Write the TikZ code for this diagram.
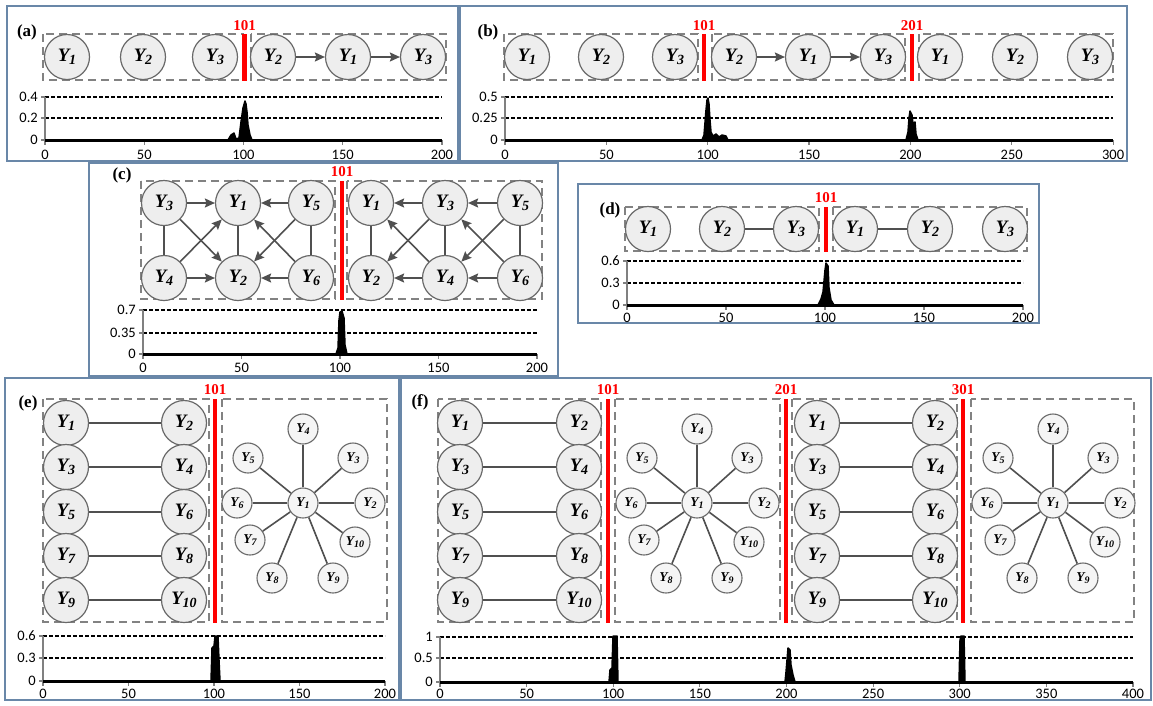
\documentclass[tikz,border=0pt]{standalone}
\usepackage{fontspec}
\setmainfont{Liberation Serif}
\newfontfamily\serifface{Liberation Serif}
\newfontfamily\tickfont{Carlito}
\usetikzlibrary{arrows.meta}
\definecolor{panelblue}{RGB}{105,135,168}
\definecolor{cdraw}{RGB}{105,105,105}
\definecolor{cfill}{RGB}{238,238,238}
\definecolor{edgec}{RGB}{80,80,80}
\definecolor{boxc}{RGB}{130,130,130}
\newcommand{\YB}[1]{{\serifface\fontsize{19}{19}\selectfont\bfseries\itshape Y\kern-0.5pt\raisebox{-0.35ex}{\fontsize{14}{14}\selectfont #1}}}
\newcommand{\YS}[1]{{\serifface\fontsize{13.5}{13.5}\selectfont\bfseries\itshape Y\raisebox{-0.35ex}{\fontsize{10}{10}\selectfont #1}}}
\newcommand{\pairblock}[3]{%
  \foreach \yy/\ia/\ib [count=\k] in {423/1/2,467/3/4,512/5/6,556/7/8,600/9/10}{
    \node[bigc] (#1l\k) at (#2,\yy) {\YB{\ia}};
    \node[bigc] (#1r\k) at (#3,\yy) {\YB{\ib}};
    \draw[und] (#1l\k) -- (#1r\k);
  }}
\newcommand{\starblock}[3]{%
  \begin{scope}[shift={(#2,#3)}]
    \node[smc] (#1c) at (0,0) {\YS{1}};
    \foreach \dx/\dy/\j in {0/-74/4,50/-45/3,67/0/2,52/39/10,30/75/9,-31/75/8,-53/37/7,-66/0/6,-55/-45/5}{
      \node[smc] (#1n\j) at (\dx,\dy) {\YS{\j}};
      \draw[und] (#1c) -- (#1n\j);
    }
  \end{scope}}
\tikzset{
  panel/.style={draw=panelblue,line width=1.6pt},
  dbox/.style={draw=boxc,line width=1.4pt,dash pattern=on 8pt off 5pt},
  bigc/.style={circle,draw=cdraw,fill=cfill,line width=1.2pt,minimum size=45pt,inner sep=0pt},
  smc/.style={circle,draw=cdraw,fill=cfill!60,line width=1.1pt,minimum size=30pt,inner sep=0pt},
  und/.style={draw=edgec,line width=1.6pt},
  arr/.style={draw=edgec,line width=1.6pt,-{Stealth[length=10pt,width=9pt,inset=1.5pt]}},
  redbar/.style={draw=red,line width=4.5pt},
  redlab/.style={text=red,font=\serifface\fontsize{15}{15}\selectfont\bfseries,inner sep=0pt},
  plab/.style={font=\serifface\fontsize{17}{17}\selectfont\bfseries,inner sep=0pt},
  dline/.style={black,line width=2.2pt,dash pattern=on 4pt off 2pt},
  axisc/.style={draw=gray,line width=1.2pt},
  base/.style={black,line width=3pt},
  sig/.style={black,fill=black,line width=1.5pt,line join=round},
  tl/.style={font=\tickfont\fontsize{14.5}{14.5}\selectfont,inner sep=0pt}
}
\begin{document}
\begin{tikzpicture}[x=1pt,y=-1pt]
\useasboundingbox (0,0) rectangle (1153,705);
\fill[white] (0,0) rectangle (1153,705);
% panels
\draw[panel] (7,6) rectangle (458,161);
\draw[panel] (460,6) rectangle (1127,161);
\draw[panel] (89,163) rectangle (558,376);
\draw[panel] (578,184) rectangle (1039,323);
\draw[panel] (5,378) rectangle (399,700);
\draw[panel] (401,378) rectangle (1151,700);

%%%%% (a)
\node[plab] (la) at (27,32) {(a)};
\draw[dbox] (43,34) rectangle (243,80);
\draw[dbox] (251,34) rectangle (446,80);
\draw[redbar] (244.5,34) -- (244.5,81);
\node[redlab] (ra) at (244.5,26) {101};
\node[bigc] (a1) at (67,57) {\YB{1}};
\node[bigc] (a2) at (143,57) {\YB{2}};
\node[bigc] (a3) at (215,57) {\YB{3}};
\node[bigc] (a4) at (273,57) {\YB{2}};
\node[bigc] (a5) at (348,57) {\YB{1}};
\node[bigc] (a6) at (423,57) {\YB{3}};
\draw[arr] (a4) -- (a5);
\draw[arr] (a5) -- (a6);
% chart a
\draw[dline] (45,97) -- (442,97);
\draw[dline] (45,118) -- (442,118);
\draw[axisc] (45,97) -- (45,140);
\foreach \yy/\l [count=\k] in {97/0.4,118/0.2,140/0}{
  \draw[axisc] (41,\yy) -- (45,\yy);
  \node[tl,anchor=east] (aya\k) at (38,\yy) {\l};}
\foreach \v in {0,50,100,150,200}{
  \draw[axisc] ({45+\v*1.985},140) -- ++(0,5);
  \node[tl] (axa\v) at ({45+\v*1.985},155) {\v};}
\draw[base] (45,140) -- (442,140);
\draw[sig] (228,140) -- (231,135) -- (234,133) -- (236,139) -- (239,138) -- (241,122) -- (243,108) -- (245,101) -- (246,104) -- (247,112) -- (248,125) -- (250,135) -- (252,140) -- cycle;

%%%%% (b)
\node[plab] (lb) at (488,32) {(b)};
\draw[dbox] (504,34) rectangle (698,80);
\draw[dbox] (712,34) rectangle (905,80);
\draw[dbox] (919,34) rectangle (1113,80);
\draw[redbar] (704,34) -- (704,81);
\node[redlab] (rb1) at (704,26) {101};
\draw[redbar] (912,34) -- (912,81);
\node[redlab] (rb2) at (912,26) {201};
\node[bigc] (b1) at (527,57) {\YB{1}};
\node[bigc] (b2) at (601,57) {\YB{2}};
\node[bigc] (b3) at (675,57) {\YB{3}};
\node[bigc] (b4) at (734,57) {\YB{2}};
\node[bigc] (b5) at (808,57) {\YB{1}};
\node[bigc] (b6) at (883,57) {\YB{3}};
\node[bigc] (b7) at (940,57) {\YB{1}};
\node[bigc] (b8) at (1015,57) {\YB{2}};
\node[bigc] (b9) at (1090,57) {\YB{3}};
\draw[arr] (b4) -- (b5);
\draw[arr] (b5) -- (b6);
% chart b
\draw[dline] (505,97) -- (1113,97);
\draw[dline] (505,118) -- (1113,118);
\draw[axisc] (505,97) -- (505,140);
\foreach \yy/\l [count=\k] in {97/0.5,118/0.25,140/0}{
  \draw[axisc] (501,\yy) -- (505,\yy);
  \node[tl,anchor=east] (ayb\k) at (498,\yy) {\l};}
\foreach \v in {0,50,100,150,200,250,300}{
  \draw[axisc] ({505+\v*2.027},140) -- ++(0,5);
  \node[tl] (axb\v) at ({505+\v*2.027},155) {\v};}
\draw[base] (505,140) -- (1113,140);
\draw[sig] (702,140) -- (704,135) -- (706,110) -- (707,100) -- (708,98) -- (709,104) -- (710,120) -- (711,132) -- (713,136) -- (716,134) -- (719,137) -- (722,135) -- (726,136) -- (728,140) -- cycle;
\draw[sig] (906,140) -- (908,132) -- (909,118) -- (910,111) -- (912,115) -- (913,124) -- (915,122) -- (916,134) -- (918,140) -- cycle;

%%%%% (c)
\node[plab] (lc) at (122,175) {(c)};
\draw[dbox] (141,181) rectangle (335,299);
\draw[dbox] (347,181) rectangle (542,299);
\draw[redbar] (342,181) -- (342,300);
\node[redlab] (rc) at (342,172) {101};
\node[bigc] (cl3) at (164,203) {\YB{3}};
\node[bigc] (cl1) at (238,203) {\YB{1}};
\node[bigc] (cl5) at (311,203) {\YB{5}};
\node[bigc] (cl4) at (164,278) {\YB{4}};
\node[bigc] (cl2) at (238,278) {\YB{2}};
\node[bigc] (cl6) at (311,278) {\YB{6}};
\node[bigc] (cr1) at (371,203) {\YB{1}};
\node[bigc] (cr3) at (445,203) {\YB{3}};
\node[bigc] (cr5) at (520,203) {\YB{5}};
\node[bigc] (cr2) at (371,278) {\YB{2}};
\node[bigc] (cr4) at (445,278) {\YB{4}};
\node[bigc] (cr6) at (520,278) {\YB{6}};
\draw[und] (cl3) -- (cl4);
\draw[und] (cl1) -- (cl2);
\draw[und] (cl5) -- (cl6);
\draw[arr] (cl3) -- (cl1);
\draw[arr] (cl3) -- (cl2);
\draw[arr] (cl4) -- (cl1);
\draw[arr] (cl4) -- (cl2);
\draw[arr] (cl5) -- (cl1);
\draw[arr] (cl5) -- (cl2);
\draw[arr] (cl6) -- (cl1);
\draw[arr] (cl6) -- (cl2);
\draw[und] (cr1) -- (cr2);
\draw[und] (cr3) -- (cr4);
\draw[und] (cr5) -- (cr6);
\draw[arr] (cr3) -- (cr1);
\draw[arr] (cr3) -- (cr2);
\draw[arr] (cr4) -- (cr1);
\draw[arr] (cr4) -- (cr2);
\draw[arr] (cr5) -- (cr3);
\draw[arr] (cr5) -- (cr4);
\draw[arr] (cr6) -- (cr3);
\draw[arr] (cr6) -- (cr4);
% chart c
\draw[dline] (143,310) -- (537,310);
\draw[dline] (143,333) -- (537,333);
\draw[axisc] (143,310) -- (143,354);
\foreach \yy/\l [count=\k] in {310/0.7,333/0.35,354/0}{
  \draw[axisc] (139,\yy) -- (143,\yy);
  \node[tl,anchor=east] (ayc\k) at (136,\yy) {\l};}
\foreach \v in {0,50,100,150,200}{
  \draw[axisc] ({143+\v*1.97},354) -- ++(0,5);
  \node[tl] (axc\v) at ({143+\v*1.97},368) {\v};}
\draw[base] (143,354) -- (537,354);
\draw[sig] (336,354) -- (338,348) -- (339,320) -- (340,312) -- (342,311) -- (344,318) -- (345,345) -- (347,354) -- cycle;

%%%%% (d)
\node[plab] (ld) at (610,210) {(d)};
\draw[dbox] (625,207) rectangle (819,251);
\draw[dbox] (833,207) rectangle (1027,251);
\draw[redbar] (826,207) -- (826,252);
\node[redlab] (rd) at (826,198) {101};
\node[bigc] (d1) at (648,229) {\YB{1}};
\node[bigc] (d2) at (722,229) {\YB{2}};
\node[bigc] (d3) at (796,229) {\YB{3}};
\node[bigc] (d4) at (855,229) {\YB{1}};
\node[bigc] (d5) at (930,229) {\YB{2}};
\node[bigc] (d6) at (1005,229) {\YB{3}};
\draw[und] (d2) -- (d3);
\draw[und] (d4) -- (d5);
% chart d
\draw[dline] (627,261) -- (1023,261);
\draw[dline] (627,283) -- (1023,283);
\draw[axisc] (627,261) -- (627,305);
\foreach \yy/\l [count=\k] in {261/0.6,283/0.3,305/0}{
  \draw[axisc] (623,\yy) -- (627,\yy);
  \node[tl,anchor=east] (ayd\k) at (620,\yy) {\l};}
\foreach \v in {0,50,100,150,200}{
  \draw[axisc] ({627+\v*1.98},305) -- ++(0,5);
  \node[tl] (axd\v) at ({627+\v*1.98},318) {\v};}
\draw[base] (627,305) -- (1023,305);
\draw[sig] (818,305) -- (821,299) -- (823,292) -- (825,270) -- (826,263) -- (828,266) -- (829,288) -- (831,300) -- (834,305) -- cycle;

%%%%% (e)
\node[plab] (le) at (28,403) {(e)};
\draw[dbox] (43,399) rectangle (209,622);
\draw[dbox] (222,399) rectangle (387,622);
\draw[redbar] (215,399) -- (215,623);
\node[redlab] (re) at (215,390) {101};
\pairblock{ep}{66}{184}
\starblock{es}{303}{503}
% chart e
\draw[dline] (43,636) -- (385,636);
\draw[dline] (43,658) -- (385,658);
\draw[axisc] (43,636) -- (43,681);
\foreach \yy/\l [count=\k] in {636/0.6,658/0.3,681/0}{
  \draw[axisc] (39,\yy) -- (43,\yy);
  \node[tl,anchor=east] (aye\k) at (36,\yy) {\l};}
\foreach \v in {0,50,100,150,200}{
  \draw[axisc] ({43+\v*1.71},681) -- ++(0,5);
  \node[tl] (axe\v) at ({43+\v*1.71},694) {\v};}
\draw[base] (43,681) -- (385,681);
\draw[sig] (211,681) -- (212,648) -- (214,646) -- (215,636) -- (218,636) -- (219,660) -- (220,681) -- cycle;

%%%%% (f)
\node[plab] (lf) at (420,402) {(f)};
\draw[dbox] (438,399) rectangle (601,622);
\draw[dbox] (615,399) rectangle (780,622);
\draw[dbox] (792,399) rectangle (957,622);
\draw[dbox] (971,399) rectangle (1134,622);
\draw[redbar] (608,399) -- (608,623);
\node[redlab] (rf1) at (608,390) {101};
\draw[redbar] (786,399) -- (786,623);
\node[redlab] (rf2) at (786,390) {201};
\draw[redbar] (963,399) -- (963,623);
\node[redlab] (rf3) at (963,390) {301};
\pairblock{fp}{460}{579}
\starblock{fs}{697}{503}
\pairblock{fq}{817}{935}
\starblock{ft}{1053}{503}
% chart f
\draw[dline] (440,637) -- (1133,637);
\draw[dline] (440,658) -- (1133,658);
\draw[axisc] (440,637) -- (440,682);
\foreach \yy/\l [count=\k] in {637/1,658/0.5,682/0}{
  \draw[axisc] (436,\yy) -- (440,\yy);
  \node[tl,anchor=east] (ayf\k) at (433,\yy) {\l};}
\foreach \v in {0,50,100,150,200,250,300,350,400}{
  \draw[axisc] ({440+\v*1.7325},682) -- ++(0,5);
  \node[tl] (axf\v) at ({440+\v*1.7325},694) {\v};}
\draw[base] (440,682) -- (1133,682);
\draw[sig] (609,682) -- (610,670) -- (612,668) -- (613,636) -- (617,636) -- (618,682) -- cycle;
\draw[sig] (785,682) -- (786,672) -- (787,660) -- (788,648) -- (790,650) -- (791,665) -- (793,675) -- (795,682) -- cycle;
\draw[sig] (959,682) -- (960,640) -- (961,636) -- (964,636) -- (965,682) -- cycle;
\end{tikzpicture}
\end{document}
